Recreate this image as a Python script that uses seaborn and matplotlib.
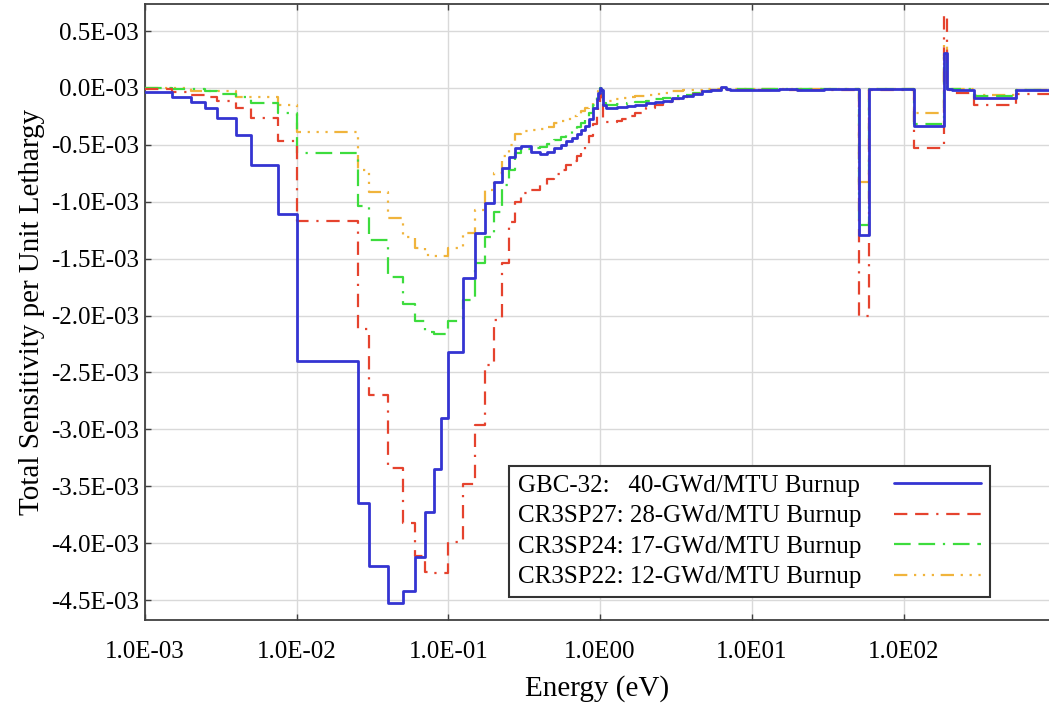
import matplotlib
matplotlib.use("Agg")
import matplotlib.pyplot as plt
from matplotlib.ticker import NullLocator
import pandas as pd
import seaborn as sns

# Energy group boundaries (eV)
energy_edges = [1.0e-3, 1.5e-3, 2.0e-3, 2.5e-3, 3.0e-3, 4.0e-3, 5.0e-3, 7.5e-3,
                1.0e-2, 2.53e-2, 3.0e-2, 4.0e-2, 5.0e-2, 6.0e-2, 7.0e-2, 8.0e-2,
                9.0e-2, 0.1, 0.125, 0.15, 0.175, 0.2, 0.225, 0.25, 0.275, 0.3,
                0.35, 0.4, 0.45, 0.5, 0.55, 0.6, 0.65, 0.7, 0.75, 0.8, 0.85, 0.9,
                0.95, 0.975, 1.0, 1.02, 1.05, 1.1, 1.15, 1.2, 1.3, 1.4, 1.5, 1.7,
                2.0, 2.3, 2.6, 3.0, 3.5, 4.1, 4.7, 5.4, 6.25, 6.75, 7.15, 8.1,
                10.0, 15.0, 20.0, 30.0, 40.0, 50.6, 59.0, 70.0, 90.0, 117.0,
                186.0, 192.5, 210.0, 290.0, 550.0, 910.0]

# Total sensitivity per unit lethargy (x 1E-03), one value per group
gbc32 = [-0.035, -0.08, -0.12, -0.175, -0.26, -0.41, -0.675, -1.11,
         -2.40, -3.65, -4.20, -4.53, -4.42, -4.12, -3.73, -3.35, -2.90,
         -2.32, -1.67, -1.27, -1.01, -0.83, -0.70, -0.61, -0.53,
         -0.51, -0.56, -0.58, -0.56, -0.53, -0.50, -0.47, -0.44, -0.40,
         -0.37, -0.33, -0.27, -0.18, -0.10, -0.04, 0.0, -0.02, -0.15,
         -0.18, -0.18, -0.18, -0.17, -0.17, -0.16, -0.15, -0.13, -0.12,
         -0.11, -0.09, -0.07, -0.05, -0.03, -0.02, 0.01, -0.01, -0.02,
         -0.02, -0.015, -0.01, -0.015, -0.01, -0.01, -1.29, -0.01, -0.01,
         -0.01, -0.33, 0.31, -0.01, -0.02, -0.09, -0.02]
cr3sp27 = [-0.01, -0.035, -0.06, -0.08, -0.11, -0.175, -0.26, -0.47,
           -1.17, -2.12, -2.70, -3.34, -3.82, -4.11, -4.25, -4.26, -4.26,
           -3.99, -3.48, -2.96, -2.43, -2.04, -1.54, -1.18, -1.00,
           -0.92, -0.90, -0.85, -0.80, -0.76, -0.72, -0.68, -0.64, -0.60,
           -0.55, -0.50, -0.42, -0.32, -0.20, -0.12, -0.05, -0.10, -0.27,
           -0.30, -0.30, -0.30, -0.29, -0.27, -0.25, -0.22, -0.18, -0.15,
           -0.12, -0.10, -0.08, -0.05, -0.03, -0.02, 0.0, -0.02, -0.02,
           -0.02, -0.02, -0.02, -0.02, -0.02, -0.02, -2.00, -0.02, -0.02,
           -0.02, -0.53, 0.64, -0.02, -0.04, -0.15, -0.05]
cr3sp24 = [0.0, -0.005, -0.01, -0.03, -0.05, -0.08, -0.13, -0.22,
           -0.57, -1.04, -1.34, -1.66, -1.90, -2.05, -2.14, -2.16, -2.16,
           -2.05, -1.86, -1.54, -1.31, -1.09, -0.85, -0.72, -0.57,
           -0.54, -0.53, -0.52, -0.49, -0.46, -0.43, -0.40, -0.37, -0.34,
           -0.31, -0.27, -0.22, -0.15, -0.08, -0.04, 0.0, -0.02, -0.13,
           -0.15, -0.15, -0.15, -0.14, -0.14, -0.13, -0.12, -0.11, -0.10,
           -0.09, -0.07, -0.06, -0.04, -0.03, -0.02, 0.0, -0.01, -0.01,
           -0.01, -0.01, -0.01, -0.01, -0.01, -0.01, -1.20, -0.01, -0.01,
           -0.01, -0.32, 0.27, -0.01, -0.01, -0.07, -0.02]
cr3sp22 = [0.0, 0.0, -0.03, -0.03, -0.03, -0.08, -0.08, -0.15,
           -0.39, -0.72, -0.91, -1.14, -1.31, -1.41, -1.47, -1.48, -1.48,
           -1.41, -1.27, -1.07, -0.90, -0.75, -0.60, -0.50, -0.40,
           -0.38, -0.37, -0.36, -0.34, -0.31, -0.29, -0.27, -0.25, -0.23,
           -0.20, -0.18, -0.15, -0.11, -0.06, -0.03, 0.0, -0.02, -0.11,
           -0.11, -0.11, -0.10, -0.10, -0.09, -0.08, -0.07, -0.06, -0.05,
           -0.04, -0.03, -0.02, -0.02, -0.01, -0.01, 0.0, -0.01, -0.01,
           -0.01, -0.01, -0.01, -0.01, -0.01, -0.01, -0.83, -0.01, -0.01,
           -0.01, -0.22, 0.39, -0.01, -0.01, -0.06, -0.02]

series_labels = ["GBC-32:   40-GWd/MTU Burnup",
                 "CR3SP27: 28-GWd/MTU Burnup",
                 "CR3SP24: 17-GWd/MTU Burnup",
                 "CR3SP22: 12-GWd/MTU Burnup"]

x_ticks = [1e-3, 1e-2, 1e-1, 1.0, 10.0, 100.0]
x_tick_labels = ["1.0E-03", "1.0E-02", "1.0E-01", "1.0E00", "1.0E01", "1.0E02"]
y_ticks = [0.5, 0.0, -0.5, -1.0, -1.5, -2.0, -2.5, -3.0, -3.5, -4.0, -4.5]
y_tick_labels = ["0.5E-03", "0.0E-03", "-0.5E-03", "-1.0E-03", "-1.5E-03",
                 "-2.0E-03", "-2.5E-03", "-3.0E-03", "-3.5E-03", "-4.0E-03",
                 "-4.5E-03"]

sns.set_theme(style="whitegrid")
plt.rcParams['font.family'] = ['Liberation Serif', 'DejaVu Serif']

W, H = 1049, 703
fig = plt.figure(figsize=(W / 100, H / 100), dpi=100)
ax = fig.add_axes([145 / W, 1 - 620 / H, 904 / W, 616 / H])

styles = [
    (gbc32, "#3434d2", 2.0, "-", 5),
    (cr3sp27, "#e5432e", 1.6, (0, (6, 3.5, 6, 3.5, 1, 3.5)), 4),
    (cr3sp24, "#3ddc3d", 1.6, (0, (7.5, 3.5, 7.5, 3.5, 1, 3.5)), 3),
    (cr3sp22, "#f0b43c", 1.6, (0, (6, 3, 1, 3, 1, 3, 1, 3)), 2),
]

for (vals, color, lw, ls, z), label in zip(styles, series_labels):
    df = pd.DataFrame({"E": energy_edges, "S": list(vals) + [vals[-1]]})
    sns.lineplot(data=df, x="E", y="S", ax=ax, color=color, linewidth=lw,
                 linestyle=ls, drawstyle="steps-post", label=label,
                 zorder=z, estimator=None, sort=False)

ax.set_xscale("log")
ax.set_xlim(1e-3, 910)
ax.set_ylim(-4.675, 0.738)
ax.set_xticks(x_ticks)
ax.set_xticklabels(x_tick_labels)
ax.xaxis.set_minor_locator(NullLocator())
ax.set_yticks(y_ticks)
ax.set_yticklabels(y_tick_labels)

ax.grid(True, color="#d9d9d9", linewidth=1.0)
ax.set_axisbelow(True)
for side in ["left", "bottom", "top"]:
    ax.spines[side].set_color("#404040")
    ax.spines[side].set_linewidth(1.3)
ax.spines["right"].set_visible(False)

ax.tick_params(axis="x", which="major", direction="in", length=4, width=1,
               color="#404040", labelcolor="black", labelsize=18, pad=15,
               top=True, bottom=True)
ax.tick_params(axis="y", which="major", direction="in", length=4, width=1,
               color="#404040", labelcolor="black", labelsize=18, pad=4.5,
               left=True)

ax.set_xlabel("Energy (eV)", fontsize=21, color="black", labelpad=9)
ax.set_ylabel("Total Sensitivity per Unit Lethargy", fontsize=21,
              color="black", labelpad=4)

handles, labels = ax.get_legend_handles_labels()
fs = 18
tpad = 1.3
leg = ax.legend(handles, labels, loc="lower right",
                bbox_to_anchor=(0.935, 0.037), borderaxespad=0,
                fontsize=fs, markerfirst=False, handlelength=3.5,
                handletextpad=tpad, labelspacing=0.32, borderpad=0.35,
                frameon=True, fancybox=False, framealpha=1.0)
leg.get_frame().set_edgecolor("#333333")
leg.get_frame().set_linewidth(1.5)
for t in leg.get_texts():
    t.set_color("black")

# left-align the legend labels while keeping handles on the right
fig.canvas.draw()
renderer = fig.canvas.get_renderer()
texts = leg.get_texts()
widths = [t.get_window_extent(renderer).width * 72.0 / fig.dpi for t in texts]
maxw = max(widths)
column = leg._legend_handle_box.get_children()[0]
for itembox, w in zip(column.get_children(), widths):
    itembox.sep = tpad * fs + (maxw - w)

fig.savefig("out.png", dpi=100)
